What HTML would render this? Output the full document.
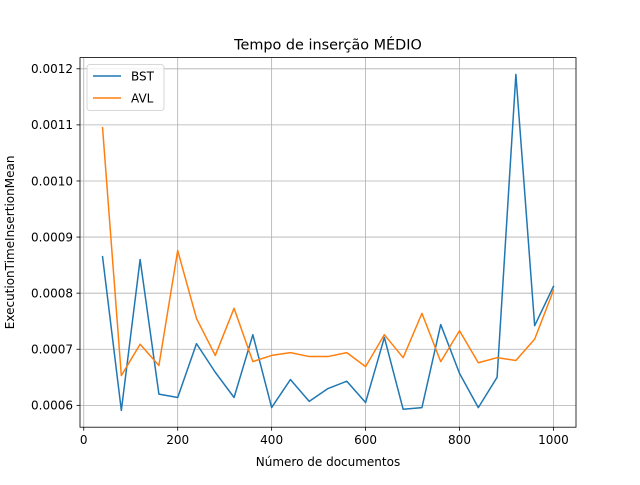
<!DOCTYPE html>
<html><head><meta charset="utf-8"><style>
body{margin:0;background:#fff;}
svg text{font-family:"DejaVu Sans","Liberation Sans",sans-serif;}
</style></head><body>
<svg id="chart" width="640" height="480">
<rect width="640" height="480" fill="#fff"/>
</svg>
<script>
const categories=[40,80,120,160,200,240,280,320,360,400,440,480,520,560,600,640,680,720,760,800,840,880,920,960,1000];
const bstValues=[0.000865,0.000591,0.00086,0.00062,0.000614,0.00071,0.000659,0.000614,0.000726,0.000596,0.000646,0.000607,0.00063,0.000643,0.000605,0.000721,0.000593,0.000596,0.000744,0.000657,0.000596,0.00065,0.00119,0.000742,0.000812];
const avlValues=[0.001095,0.000653,0.000709,0.000671,0.000876,0.000755,0.000689,0.000773,0.000678,0.000689,0.000694,0.000687,0.000687,0.000694,0.000669,0.000726,0.000685,0.000764,0.000678,0.000733,0.000676,0.000685,0.00068,0.000718,0.000805];
const xTicks=[0,200,400,600,800,1000];
const yTicks=[0.0006,0.0007,0.0008,0.0009,0.0010,0.0011,0.0012];
const yTickLabels=["0.0006","0.0007","0.0008","0.0009","0.0010","0.0011","0.0012"];
const NS="http://www.w3.org/2000/svg";
const svg=document.getElementById('chart');
const L=80,R=576,T=57.6,B=427.2;
const xmin0=Math.min(...categories),xmax0=Math.max(...categories);
const xm=(xmax0-xmin0)*0.05,xmin=xmin0-xm,xmax=xmax0+xm;
const all=bstValues.concat(avlValues);
const ymin0=Math.min(...all),ymax0=Math.max(...all),ym=(ymax0-ymin0)*0.05;
const ymin=ymin0-ym,ymax=ymax0+ym;
const xs=v=>L+(v-xmin)/(xmax-xmin)*(R-L);
const ys=v=>B-(v-ymin)/(ymax-ymin)*(B-T);
function mk(tag,attrs,parent){const e=document.createElementNS(NS,tag);for(const k in attrs)e.setAttribute(k,attrs[k]);(parent||svg).appendChild(e);return e;}
const grid=mk('g',{});


xTicks.forEach(t=>{const x=xs(t);
 mk('line',{x1:x,x2:x,y1:T,y2:B,stroke:'#b0b0b0','stroke-width':0.8},grid);
 mk('line',{x1:x,x2:x,y1:B,y2:B+3.5,stroke:'#000','stroke-width':0.8});
 const tx=mk('text',{x:x,y:B+17,'text-anchor':'middle','font-size':12});tx.textContent=t;
 
 });
yTicks.forEach((t,i)=>{const y=ys(t);
 mk('line',{x1:L,x2:R,y1:y,y2:y,stroke:'#b0b0b0','stroke-width':0.8},grid);
 mk('line',{x1:L-3.5,x2:L,y1:y,y2:y,stroke:'#000','stroke-width':0.8});
 const tx=mk('text',{x:L-7,y:y+4.3,'text-anchor':'end','font-size':12});tx.textContent=yTickLabels[i];
 
 });
function series(vals,color,name){const p=mk('polyline',{points:vals.map((v,i)=>xs(categories[i])+','+ys(v)).join(' '),fill:'none',stroke:color,'stroke-width':1.5,'stroke-linejoin':'round','stroke-linecap':'square'});
 
 }
series(bstValues,'#1f77b4','bst-line');
series(avlValues,'#ff7f0e','avl-line');
const fr=mk('rect',{x:L,y:T,width:R-L,height:B-T,fill:'none',stroke:'#000','stroke-width':0.8});


let t=mk('text',{x:(L+R)/2,y:T-8,'text-anchor':'middle','font-size':14.4});t.textContent='Tempo de inserção MÉDIO';


t=mk('text',{x:(L+R)/2,y:466,'text-anchor':'middle','font-size':12});t.textContent='Número de documentos';


t=mk('text',{x:0,y:0,'text-anchor':'middle','font-size':12,transform:'translate(14,'+((T+B)/2)+') rotate(-90)'});t.textContent='ExecutionTimeInsertionMean';


const lg=mk('g',{});


mk('rect',{x:87,y:64.5,width:77,height:46,rx:3,fill:'#fff','fill-opacity':0.8,stroke:'#ccc','stroke-width':0.8},lg);
[['BST','#1f77b4',76],['AVL','#ff7f0e',98]].forEach(([n,c,y])=>{
 mk('line',{x1:93,x2:121,y1:y,y2:y,stroke:c,'stroke-width':1.5},lg);
 const e=mk('text',{x:131,y:y+4.5,'font-size':12},lg);e.textContent=n;
 
 });
</script>
</body></html>
